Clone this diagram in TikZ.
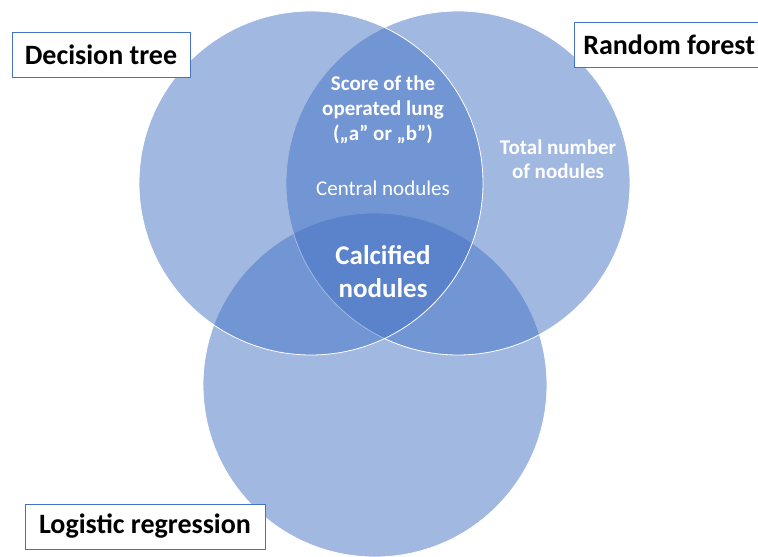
\documentclass[tikz,border=0pt]{standalone}
\usepackage{fontspec}
\setmainfont{Carlito}
\definecolor{vennblue}{HTML}{4472C4}
\tikzset{
  venn/.style={circle, minimum size=344pt, inner sep=0pt, fill=vennblue, fill opacity=0.5, draw=white, line width=0.8pt},
  tagbox/.style={draw=vennblue, fill=white, line width=0.7pt, text=black, minimum height=45pt, font=\bfseries\fontsize{28}{32}\selectfont},
  intext/.style={text=white, align=center}
}
\begin{document}
\begin{tikzpicture}[x=1pt, y=-1pt]
  \useasboundingbox (0,0) rectangle (758,557);

  % the three sets
  \node[venn] (logcircle) at (375,385) {};
  \node[venn] (forestcircle) at (458,183) {};
  \node[venn] (treecircle) at (311,183) {};

  % contents of the overlaps
  \node[intext, font=\bfseries\fontsize{21}{25}\selectfont] (score) at (383,110) {Score of the\\operated lung\\(„a” or „b”)};
  \node[intext, font=\fontsize{21}{25}\selectfont] (central) at (383,188) {Central nodules};
  \node[intext, font=\bfseries\fontsize{21}{24}\selectfont] (total) at (558,159) {Total number\\of nodules};
  \node[intext, font=\bfseries\fontsize{27}{33}\selectfont] (calcified) at (383,272) {Calcified\\nodules};

  % names of the models
  \node[tagbox, minimum width=178pt] (dtree) at (101,54.5) {Decision tree};
  \node[tagbox, anchor=west, inner xsep=9pt] (rforest) at (574,45) {Random forest};
  \node[tagbox, minimum width=240pt] (logreg) at (145,526.5) {Logistic regression};
\end{tikzpicture}
\end{document}
